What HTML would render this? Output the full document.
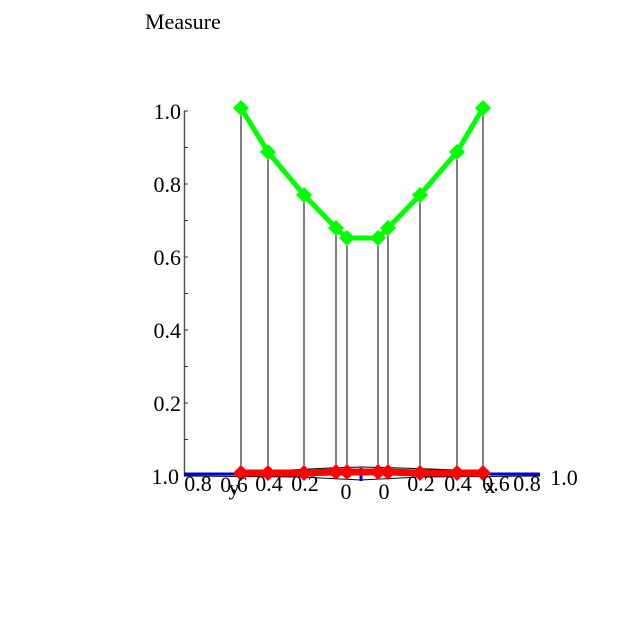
<!DOCTYPE html>
<html><head><meta charset="utf-8"><style>
html,body{margin:0;padding:0;background:#fff;}
svg{display:block;font-family:"Liberation Serif",serif;}
</style></head><body>
<svg width="640" height="640" viewBox="0 0 640 640" xmlns="http://www.w3.org/2000/svg">
<text x="145" y="29" font-size="22">Measure</text>
<line x1="184.5" y1="111" x2="184.5" y2="476" stroke="#555" stroke-width="1.5"/>
<g stroke="#333" stroke-width="1">
<line x1="184" y1="111" x2="188" y2="111"/><line x1="184" y1="147.5" x2="188" y2="147.5"/>
<line x1="184" y1="184" x2="188" y2="184"/><line x1="184" y1="220.5" x2="188" y2="220.5"/>
<line x1="184" y1="257" x2="188" y2="257"/><line x1="184" y1="293.5" x2="188" y2="293.5"/>
<line x1="184" y1="330" x2="188" y2="330"/><line x1="184" y1="366.5" x2="188" y2="366.5"/>
<line x1="184" y1="403" x2="188" y2="403"/><line x1="184" y1="439.5" x2="188" y2="439.5"/>
</g>
<g font-size="22" text-anchor="end">
<text x="181" y="119">1.0</text><text x="181" y="192">0.8</text>
<text x="181" y="265">0.6</text><text x="181" y="338">0.4</text>
<text x="181" y="411">0.2</text><text x="179" y="484">1.0</text>
</g>
<g stroke="#000" stroke-width="1">
<line x1="241" y1="108" x2="241" y2="476"/><line x1="268" y1="152" x2="268" y2="476"/>
<line x1="304" y1="195" x2="304" y2="476"/><line x1="336" y1="228" x2="336" y2="476"/>
<line x1="347" y1="238" x2="347" y2="476"/><line x1="378" y1="238" x2="378" y2="476"/>
<line x1="388" y1="228" x2="388" y2="476"/><line x1="420" y1="195" x2="420" y2="476"/>
<line x1="457" y1="152" x2="457" y2="476"/><line x1="483" y1="108" x2="483" y2="476"/>
</g>
<line x1="184" y1="474" x2="540" y2="474" stroke="#0000cc" stroke-width="3"/>
<line x1="361" y1="468" x2="361" y2="481" stroke="#0000ff" stroke-width="3"/>
<polyline points="184,476 300,477 361,480 420,477 540,476" fill="none" stroke="#000" stroke-width="1"/>
<polyline points="241,470 270,471 330,468 361,467 400,468 460,470 485,472" fill="none" stroke="#000" stroke-width="1"/>
<polyline points="241,473 268,473 304,473 336,472 347,472 378,472 388,472 420,473 457,473 483,473" fill="none" stroke="#ff0000" stroke-width="7"/>
<g fill="#ff0000">
<path d="M241 465l8 8-8 8-8-8z"/><path d="M268 465l8 8-8 8-8-8z"/><path d="M304 465l8 8-8 8-8-8z"/>
<path d="M336 464l8 8-8 8-8-8z"/><path d="M347 464l8 8-8 8-8-8z"/><path d="M378 464l8 8-8 8-8-8z"/>
<path d="M388 464l8 8-8 8-8-8z"/><path d="M420 465l8 8-8 8-8-8z"/><path d="M457 465l8 8-8 8-8-8z"/>
<path d="M483 465l8 8-8 8-8-8z"/>
</g>
<polyline points="241,108 268,152 304,195 336,228 347,238 378,238 388,228 420,195 457,152 483,108" fill="none" stroke="#00ff00" stroke-width="5" stroke-linejoin="round"/>
<g fill="#00ff00">
<path d="M241 100l8 8-8 8-8-8z"/><path d="M268 144l8 8-8 8-8-8z"/><path d="M304 187l8 8-8 8-8-8z"/>
<path d="M336 220l8 8-8 8-8-8z"/><path d="M347 230l8 8-8 8-8-8z"/><path d="M378 230l8 8-8 8-8-8z"/>
<path d="M388 220l8 8-8 8-8-8z"/><path d="M420 187l8 8-8 8-8-8z"/><path d="M457 144l8 8-8 8-8-8z"/>
<path d="M483 100l8 8-8 8-8-8z"/>
</g>
<g font-size="22" text-anchor="middle">
<text x="198" y="491">0.8</text><text x="234" y="492">0.6</text><text x="234" y="495">y</text>
<text x="269" y="491">0.4</text><text x="305" y="491">0.2</text>
<text x="346" y="499">0</text><text x="384" y="499">0</text>
<text x="421" y="491">0.2</text><text x="458" y="491">0.4</text>
<text x="496" y="491">0.6</text><text x="490" y="493">x</text><text x="527" y="491">0.8</text>
<text x="564" y="485">1.0</text>
</g>
</svg>
</body></html>
